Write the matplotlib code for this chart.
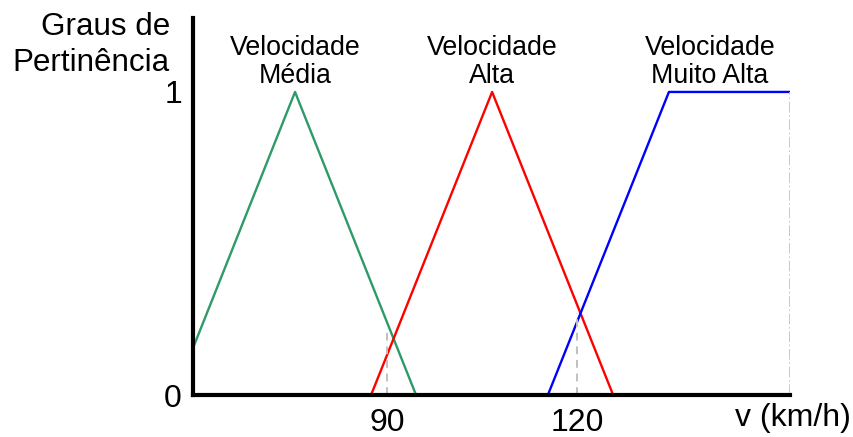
import matplotlib
matplotlib.use("Agg")
import matplotlib.pyplot as plt

plt.rcParams['font.family'] = ['Liberation Sans', 'DejaVu Sans']

# funções de pertinência (km/h, grau)
media_x = [59.4, 75.5, 94.6]
media_y = [0.155, 1.0, 0.0]
alta_x = [84.0, 87.5, 106.6, 125.7]
alta_y = [0.0, 0.0, 1.0, 0.0]
muito_alta_x = [115.4, 134.5, 153.6]
muito_alta_y = [0.0, 1.0, 1.0]
muito_alta_zero_x = [125.7, 134.0]

rotulos = ["Velocidade\nMédia", "Velocidade\nAlta", "Velocidade\nMuito Alta"]
rotulos_x = [75.5, 106.6, 141.0]

ref_x = [90, 120]
ref_y = [0.21, 0.27]
xticks = [90, 120]
yticks = [0, 1]

fig = plt.figure(figsize=(8.54, 4.37), dpi=100)
ax = fig.add_axes([0.226, 0.0961, 0.699, 0.8627])

ax.plot(media_x, media_y, color='#2e9a68', lw=1.7)
ax.plot(alta_x, alta_y, color='#ff0000', lw=1.7)
ax.plot(muito_alta_x, muito_alta_y, color='#0000ff', lw=1.7)
ax.plot(muito_alta_zero_x, [0, 0], color='#0000ff', lw=1.7)

for x, y in zip(ref_x, ref_y):
    ax.plot([x, x], [0, y], color='#c0c0c0', lw=1.4, ls=(0, (4, 3)))
ax.plot([muito_alta_x[-1]] * 2, [0, 1], color='#c0c0c0', lw=1.2, ls='-.')

for txt, x in zip(rotulos, rotulos_x):
    ax.text(x, 1.01, txt, ha='center', va='bottom', fontsize=19.3, linespacing=1.1)

ax.set_xlim(59.4, 153.6)
ax.set_ylim(0, 1.244)
ax.set_xticks(xticks)
ax.set_xticklabels([str(t) for t in xticks], fontsize=23)
ax.set_yticks(yticks)
ax.set_yticklabels([str(t) for t in yticks], fontsize=23)
ax.tick_params(axis='x', length=0, pad=9)
ax.tick_params(axis='y', length=0, pad=8)

for s in ['top', 'right']:
    ax.spines[s].set_visible(False)
for s in ['left', 'bottom']:
    ax.spines[s].set_linewidth(3)
    ax.spines[s].set_zorder(5)

fig.text(170 / 854, 1 - 12 / 437, "Graus de\nPertinência", ha='right', va='top',
         fontsize=22.6, linespacing=1.25)
fig.text(793 / 854, 1 - 418 / 437, "v (km/h)", ha='center', va='center', fontsize=23)

fig.savefig("out.png", dpi=100)
